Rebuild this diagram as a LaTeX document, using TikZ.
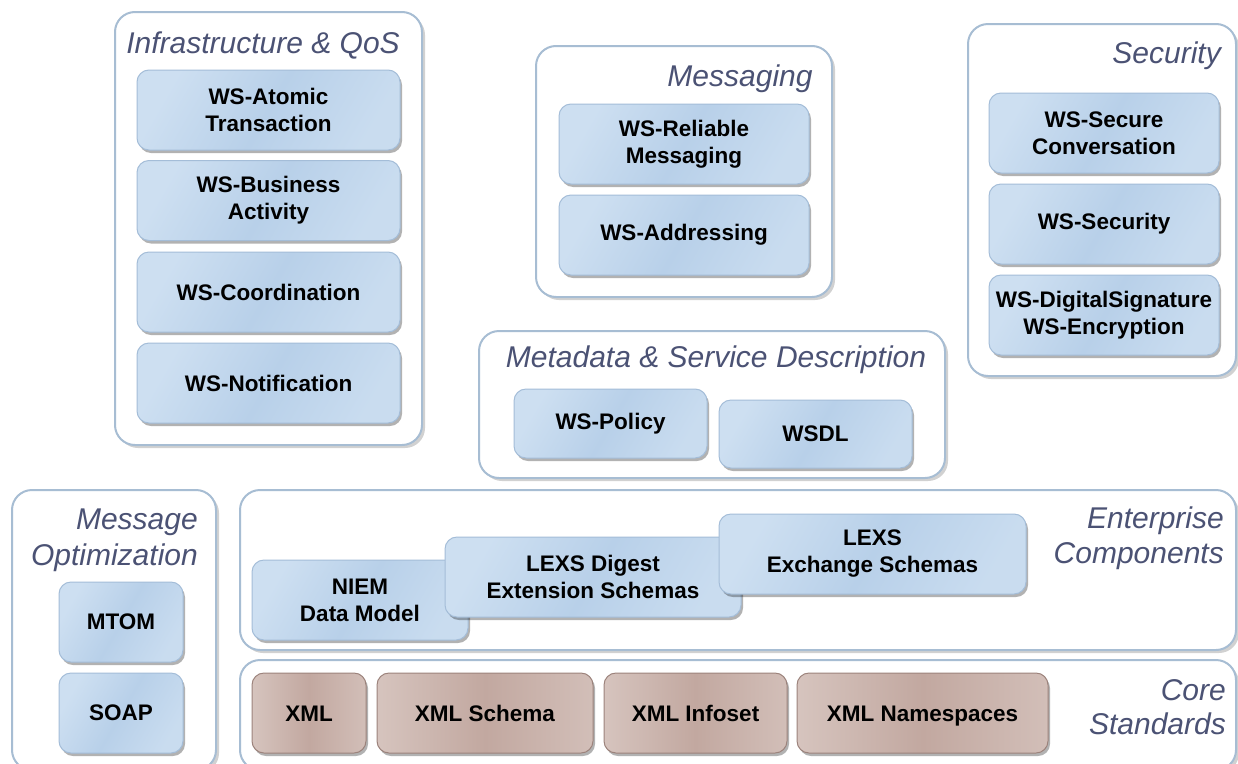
\documentclass[tikz,border=0pt]{standalone}
\usepackage{fontspec}
\setmainfont{Liberation Sans}
\usetikzlibrary{shadows}
\definecolor{frameline}{HTML}{A7BDD3}
\definecolor{titlecol}{HTML}{4B5274}
\definecolor{bluelight}{HTML}{CDDFF1}
\definecolor{bluemid}{HTML}{B8D0E9}
\definecolor{blueline}{HTML}{A4BDD8}
\definecolor{brownlight}{HTML}{D6C4BE}
\definecolor{brownmid}{HTML}{C2A8A0}
\definecolor{brownline}{HTML}{9C837C}
\tikzset{
  group/.style={draw=frameline, line width=2pt, fill=white, rounded corners=20pt,
    drop shadow={shadow xshift=3pt, shadow yshift=-3pt, fill=black, opacity=0.18}},
  grouptitle/.style={font=\fontsize{30}{35}\selectfont\itshape, text=titlecol, inner sep=0pt},
  bluebox/.style={draw=blueline, line width=1pt, rounded corners=12pt,
    left color=bluelight, right color=bluelight!80!bluemid, middle color=bluemid,
    shading angle=60,
    drop shadow={shadow xshift=2pt, shadow yshift=-3pt, fill=black, opacity=0.3},
    font=\fontsize{22.5}{27}\selectfont\bfseries, align=center, inner sep=0pt},
  brownbox/.style={draw=brownline, line width=1pt, rounded corners=12pt,
    left color=brownlight, right color=brownlight!80!brownmid, middle color=brownmid,
    drop shadow={shadow xshift=2pt, shadow yshift=-3pt, fill=black, opacity=0.3},
    font=\fontsize{22.5}{27}\selectfont\bfseries, align=center, inner sep=0pt,
    text height=16pt, text depth=0pt},
}
\begin{document}
\begin{tikzpicture}[x=1pt, y=-1pt]
\useasboundingbox (0,0) rectangle (1238,763);

% ---- outer groups ----
\draw[group] (115,12) rectangle (422,445);
\draw[group] (536,46) rectangle (832,297);
\draw[group] (968,24) rectangle (1236,376);
\draw[group] (479,331) rectangle (945,478);
\draw[group] (12,490) rectangle (216,770);
\draw[group] (240,490) rectangle (1236,650);
\draw[group] (240,660) rectangle (1236,770);

% ---- group titles ----
\node[grouptitle] (tinfra) at (263,45) {Infrastructure \& QoS};
\node[grouptitle] (tmsg) at (740,79) {Messaging};
\node[grouptitle, anchor=east] (tsec) at (1221,56) {Security};
\node[grouptitle] (tmeta) at (716,360) {Metadata \& Service Description};
\node[grouptitle, anchor=east, align=right, font=\fontsize{30}{36}\selectfont\itshape] (topt) at (198,540) {Message\\Optimization};
\node[grouptitle, anchor=east, align=right] (tent) at (1224,538) {Enterprise\\Components};
\node[grouptitle, anchor=east, align=right, font=\fontsize{30}{34}\selectfont\itshape] (tcore) at (1226,707) {Core\\Standards};

% ---- Infrastructure & QoS ----
\node[bluebox, minimum width=263pt, minimum height=80pt] (atomic) at (268.5,110) {WS-Atomic\\Transaction};
\node[bluebox, minimum width=263pt, minimum height=80pt] (business) at (268.5,200.5) {WS-Business\\Activity};
\node[bluebox, minimum width=263pt, minimum height=80pt] (coord) at (268.5,292) {WS-Coordination};
\node[bluebox, minimum width=263pt, minimum height=80pt] (notif) at (268.5,383) {WS-Notification};

% ---- Messaging ----
\node[bluebox, minimum width=250pt, minimum height=80pt] (reliable) at (684,144) {WS-Reliable\\Messaging};
\node[bluebox, minimum width=250pt, minimum height=80pt] (addr) at (684,235) {WS-Addressing};

% ---- Security ----
\node[bluebox, minimum width=230pt, minimum height=80pt] (secconv) at (1104,133) {WS-Secure\\Conversation};
\node[bluebox, minimum width=230pt, minimum height=80pt] (wssec) at (1104,224) {WS-Security};
\node[bluebox, minimum width=230pt, minimum height=80pt] (digsig) at (1104,315) {WS-DigitalSignature\\WS-Encryption};

% ---- Metadata & Service Description ----
\node[bluebox, minimum width=193pt, minimum height=69pt] (policy) at (610.5,423.5) {WS-Policy};
\node[bluebox, minimum width=193pt, minimum height=68pt] (wsdl) at (815.5,434) {WSDL};

% ---- Message Optimization ----
\node[bluebox, minimum width=124pt, minimum height=80pt] (mtom) at (121,622) {MTOM};
\node[bluebox, minimum width=124pt, minimum height=80pt] (soap) at (121,713) {SOAP};

% ---- Enterprise Components ----
\node[bluebox, minimum width=216pt, minimum height=80pt] (niem) at (360,600) {NIEM\\Data Model};
\node[bluebox, minimum width=296pt, minimum height=80pt] (digest) at (593,577) {LEXS Digest\\Extension Schemas};
\node[bluebox, minimum width=307pt, minimum height=80pt] (exch) at (872.5,554) {LEXS\\Exchange Schemas};

% ---- Core Standards ----
\node[brownbox, minimum width=114pt, minimum height=80pt] (xml) at (309,713) {XML};
\node[brownbox, minimum width=216pt, minimum height=80pt] (schema) at (485,713) {XML Schema};
\node[brownbox, minimum width=183pt, minimum height=80pt] (infoset) at (695.5,713) {XML Infoset};
\node[brownbox, minimum width=251pt, minimum height=80pt] (ns) at (922.5,713) {XML Namespaces};
\end{tikzpicture}
\end{document}
